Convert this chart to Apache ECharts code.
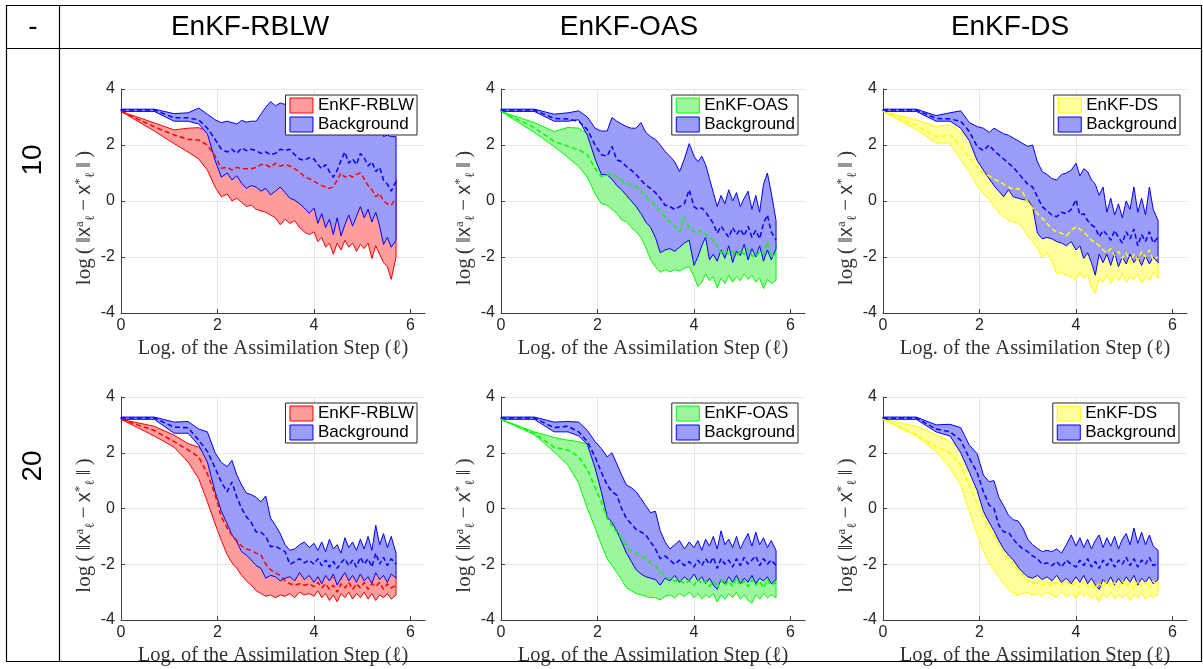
<!DOCTYPE html>
<html>
<head>
<meta charset="utf-8">
<script src="https://cdn.jsdelivr.net/npm/echarts@6/dist/echarts.min.js"></script>
<style>
  html, body { margin: 0; padding: 0; background: #fff; }
  #chart { width: 1203px; height: 669px; }
</style>
</head>
<body>
<div id="chart"></div>
<script>
// log of the assimilation step (shared x samples)
const X = [0, 0.69, 1.10, 1.39, 1.61, 1.79, 1.95, 2.08, 2.20, 2.30, 2.40, 2.5, 2.6, 2.7, 2.8, 2.9, 3.0, 3.1, 3.2, 3.3, 3.4, 3.5, 3.6, 3.7, 3.8, 3.9,
  4.0, 4.08, 4.16, 4.24, 4.32, 4.40, 4.48, 4.56, 4.64, 4.72, 4.80, 4.88, 4.96, 5.04, 5.12, 5.20, 5.28, 5.36, 5.44, 5.52, 5.60, 5.70];
const xTicks = [0, 2, 4, 6];
const rowLabels = ['10', '20'];
const methods = ['EnKF-RBLW', 'EnKF-OAS', 'EnKF-DS'];

// ensemble 10, EnKF-RBLW
const rblw10Lo = [3.2, 2.5, 2.05, 1.75, 1.5, 1.1, 0.5, 0.15, 0.25, 0.0, 0.1, -0.05, -0.2, -0.15, -0.3, -0.35, -0.4, -0.5, -0.6, -0.85, -0.65, -0.8, -0.7, -0.95, -1.1, -1.2,
  -1.1, -1.45, -1.3, -1.65, -1.5, -1.9, -1.5, -1.75, -1.4, -1.65, -1.5, -1.8, -1.55, -1.7, -1.5, -2.05, -1.6, -1.9, -2.2, -2.35, -2.8, -2.0];
const rblw10Mean = [3.2, 2.65, 2.36, 2.2, 2.18, 2.0, 1.6, 1.17, 1.2, 1.1, 1.2, 1.15, 1.15, 1.15, 1.2, 1.3, 1.3, 1.2, 1.35, 1.25, 1.3, 1.25, 1.15, 1.05, 0.87, 0.8,
  0.7, 0.63, 0.55, 0.5, 0.45, 0.5, 0.75, 1.0, 0.85, 0.93, 0.85, 0.95, 1.0, 0.8, 0.55, 0.4, 0.15, 0.27, 0.0, -0.1, -0.15, 0.1];
const rblw10Hi = [3.2, 2.79, 2.54, 2.6, 2.62, 2.5, 2.3, 2.0, 2.0, 1.9, 1.95, 1.9, 1.9, 1.9, 1.95, 2.0, 2.0, 1.95, 2.05, 2.0, 2.0, 1.95, 1.9, 1.8, 1.7, 1.6,
  1.5, 1.4, 1.35, 1.3, 1.2, 1.25, 1.45, 1.7, 1.6, 1.65, 1.6, 1.7, 1.7, 1.55, 1.35, 1.2, 1.0, 1.1, 0.8, 0.7, 0.6, 0.8];
const rblw10BgLo = [3.2, 3.2, 2.85, 2.85, 2.75, 2.4, 1.45, 0.85, 1.0, 0.75, 0.9, 0.63, 0.45, 0.55, 0.5, 0.35, 0.45, 0.22, 0.35, 0.5, 0.3, 0.1, 0.03, -0.1, -0.25, -0.44,
  -0.25, -0.8, -0.45, -0.95, -0.65, -1.2, -0.6, -1.25, -0.85, -0.5, -0.9, -0.55, -0.2, -0.6, -0.3, -0.75, -0.4, -0.9, -1.55, -1.3, -1.65, -1.4];
const rblw10BgMean = [3.25, 3.25, 2.97, 2.97, 2.9, 2.6, 2.2, 1.85, 1.75, 1.85, 1.7, 1.9, 1.8, 1.85, 1.8, 1.7, 1.75, 1.65, 1.7, 1.85, 1.8, 1.85, 1.65, 1.5, 1.45, 1.55,
  1.5, 1.3, 1.15, 1.3, 1.05, 0.85, 1.1, 1.45, 1.75, 1.35, 1.5, 1.3, 1.7, 1.55, 1.25, 1.4, 1.05, 1.2, 0.75, 0.6, 0.35, 0.7];
const rblw10BgHi = [3.28, 3.28, 3.12, 3.15, 3.32, 3.1, 2.9, 2.8, 2.85, 2.8, 2.75, 2.88, 2.82, 2.85, 2.85, 3.1, 3.35, 3.55, 3.4, 3.5, 3.45, 3.6, 3.55, 3.6, 3.5, 3.6,
  3.55, 3.6, 3.5, 3.55, 3.6, 3.5, 3.55, 3.5, 3.6, 3.5, 3.55, 3.5, 3.45, 3.5, 3.4, 3.45, 3.4, 3.3, 2.3, 2.35, 2.3, 2.3];

// ensemble 10, EnKF-OAS
const oas10Lo = [3.2, 2.45, 1.95, 1.55, 1.23, 0.85, 0.25, -0.1, -0.15, -0.3, -0.44, -0.68, -0.74, -0.95, -1.1, -1.3, -1.65, -2.1, -2.35, -2.55, -2.45, -2.53, -2.45, -2.5, -2.4, -2.35,
  -2.7, -3.05, -2.9, -2.6, -2.85, -2.7, -3.1, -2.75, -2.95, -2.65, -2.9, -2.7, -2.85, -2.6, -2.8, -2.65, -2.9, -2.75, -3.13, -2.8, -2.95, -2.83];
const oas10Mean = [3.2, 2.62, 2.13, 1.95, 1.83, 1.65, 1.17, 0.87, 0.93, 0.98, 0.85, 0.75, 0.63, 0.55, 0.51, 0.4, 0.15, 0.05, -0.15, -0.35, -0.55, -0.75, -0.92, -1.1, -0.56, -0.95,
  -1.1, -1.15, -1.05, -1.2, -1.28, -1.4, -1.6, -1.85, -1.75, -1.9, -1.8, -1.95, -1.75, -1.9, -1.7, -1.95, -2.0, -1.8, -1.9, -1.45, -2.0, -1.87];
const oas10Hi = [3.2, 2.8, 2.48, 2.63, 2.6, 2.4, 2.1, 1.8, 1.6, 1.5, 1.4, 1.3, 1.15, 1.0, 0.85, 0.7, 0.55, 0.35, 0.15, -0.05, -0.25, -0.35, -0.45, -0.5, -0.3, -0.2,
  -0.7, -0.8, -0.75, -0.9, -1.1, -1.3, -1.4, -1.25, -1.45, -1.3, -1.5, -1.35, -1.2, -1.45, -1.3, -1.55, -1.4, -1.2, -1.5, -1.1, -1.4, -1.6];
const oas10BgLo = [3.2, 3.2, 2.85, 2.85, 2.9, 2.35, 1.5, 0.95, 0.93, 0.78, 0.55, 0.4, 0.2, 0.0, -0.2, -0.45, -0.75, -0.95, -1.3, -1.85, -1.75, -1.7, -1.8, -1.65, -1.5, -1.4,
  -2.3, -2.0, -1.6, -1.3, -2.1, -1.9, -2.15, -1.75, -2.05, -1.6, -2.2, -1.8, -1.95, -1.55, -2.1, -1.7, -2.0, -1.6, -2.15, -1.75, -2.1, -1.7];
const oas10BgMean = [3.25, 3.25, 2.95, 2.93, 2.85, 2.55, 2.0, 1.65, 1.6, 1.95, 1.47, 1.4, 1.23, 1.1, 0.95, 0.75, 0.57, 0.45, 0.3, 0.1, -0.15, -0.2, -0.3, -0.2, -0.1, 0.4,
  -0.2, -0.3, -0.25, -0.38, -0.6, -0.8, -1.15, -0.9, -1.1, -1.3, -0.95, -1.2, -1.0, -1.25, -0.9, -1.3, -1.05, -1.35, -0.8, -0.5, -1.1, -1.4];
const oas10BgHi = [3.28, 3.28, 3.1, 3.15, 3.22, 3.0, 2.6, 2.5, 2.5, 2.98, 2.85, 2.75, 2.66, 2.6, 2.6, 2.8, 2.45, 2.3, 2.2, 2.0, 1.77, 1.6, 1.4, 1.05, 1.5, 2.05,
  1.6, 1.4, 1.6, 1.3, 0.8, 0.3, -0.2, 0.2, -0.1, 0.4, 0.0, 0.3, -0.2, 0.1, 0.35, -0.3, 0.2, -0.4, 0.6, 1.0, 0.3, -0.7];

// ensemble 10, EnKF-DS
const ds10Lo = [3.2, 2.55, 2.07, 2.07, 1.47, 1.05, 0.55, 0.27, 0.05, -0.2, -0.4, -0.56, -0.68, -0.75, -0.8, -0.95, -1.25, -1.45, -1.7, -2.0, -1.87, -2.15, -2.6, -2.55, -2.65, -2.7,
  -2.83, -2.55, -2.75, -2.65, -3.07, -3.3, -2.75, -2.9, -2.65, -2.95, -2.7, -2.85, -2.6, -2.9, -2.7, -2.8, -2.6, -2.95, -2.7, -2.85, -2.55, -2.75];
const ds10Mean = [3.2, 2.7, 2.3, 2.36, 1.95, 1.55, 1.2, 1.0, 0.9, 0.78, 0.7, 0.6, 0.5, 0.42, 0.45, 0.3, -0.05, -0.25, -0.45, -0.62, -0.8, -1.0, -1.1, -1.15, -1.25, -1.05,
  -0.92, -1.0, -1.1, -1.25, -1.4, -1.5, -1.58, -1.75, -1.85, -1.7, -1.95, -1.8, -2.05, -1.85, -2.2, -1.9, -2.1, -1.8, -2.0, -1.75, -2.1, -2.0];
const ds10Hi = [3.2, 2.9, 2.66, 2.72, 2.5, 2.2, 1.8, 1.6, 1.5, 1.4, 1.3, 1.2, 1.1, 1.0, 1.0, 0.9, 0.6, 0.4, 0.2, 0.0, -0.2, -0.4, -0.5, -0.55, -0.6, -0.4,
  -0.3, -0.5, -0.6, -0.7, -0.9, -1.0, -1.1, -1.3, -1.4, -1.25, -1.5, -1.35, -1.6, -1.4, -1.7, -1.45, -1.6, -1.35, -1.55, -1.3, -1.6, -1.5];
const ds10BgLo = [3.2, 3.2, 2.85, 2.85, 2.6, 2.15, 1.45, 1.1, 0.8, 0.55, 0.35, 0.15, 0.4, 0.15, 0.1, 0.05, 0.03, -0.2, -1.15, -1.35, -1.3, -1.35, -1.45, -1.5, -1.6, -1.45,
  -1.75, -1.6, -2.05, -1.85, -2.2, -2.65, -1.9, -2.2, -1.9, -2.3, -1.85, -2.35, -2.0, -2.25, -1.9, -2.2, -2.0, -2.3, -1.95, -2.25, -2.0, -2.2];
const ds10BgMean = [3.25, 3.25, 2.95, 2.93, 2.85, 2.48, 1.95, 1.8, 2.0, 1.8, 1.65, 1.5, 1.35, 1.2, 1.0, 0.8, 0.6, 0.5, 0.15, -0.2, -0.35, -0.5, -0.56, -0.4, -0.45, -0.3,
  0.05, -0.5, -0.45, -0.7, -0.85, -0.95, -1.28, -1.05, -1.2, -1.4, -1.05, -1.3, -1.5, -1.1, -1.35, -1.0, -1.6, -1.2, -1.45, -1.1, -1.5, -1.3];
const ds10BgHi = [3.28, 3.28, 3.05, 3.15, 3.22, 2.8, 2.66, 2.6, 2.45, 2.6, 2.5, 2.4, 2.35, 2.25, 2.15, 2.05, 1.95, 2.0, 1.4, 1.05, 0.95, 0.8, 0.75, 0.95, 1.0, 1.1,
  1.35, 0.9, 1.15, 1.05, 0.75, 0.6, 0.2, 0.5, -0.4, 0.1, -0.5, -0.1, -0.6, 0.0, -0.3, 0.5, -0.4, 0.1, -0.5, 0.5, -0.3, -0.7];

// ensemble 20, EnKF-RBLW
const rblw20Lo = [3.2, 2.6, 2.2, 1.67, 1.07, 0.24, -0.55, -1.15, -1.65, -1.95, -2.15, -2.4, -2.6, -2.75, -2.95, -3.05, -3.15, -3.1, -3.2, -3.1, -3.15, -3.05, -3.2, -3.0, -3.1, -3.05,
  -3.15, -2.95, -3.2, -3.05, -3.3, -3.1, -3.35, -3.05, -3.2, -3.0, -3.25, -3.05, -3.2, -3.0, -3.25, -3.05, -3.3, -3.1, -3.2, -3.05, -3.25, -3.1];
const rblw20Mean = [3.2, 2.8, 2.4, 2.1, 1.85, 1.25, 0.5, -0.3, -0.7, -0.95, -1.15, -1.35, -1.45, -1.5, -1.6, -1.67, -2.0, -2.2, -2.3, -2.4, -2.6, -2.7, -2.75, -2.7, -2.75, -2.7,
  -2.8, -2.65, -2.85, -2.7, -2.9, -2.75, -3.0, -2.7, -2.85, -2.65, -2.9, -2.7, -2.85, -2.65, -2.9, -2.7, -2.8, -2.65, -2.9, -2.7, -2.85, -2.75];
const rblw20Hi = [3.2, 2.95, 2.63, 2.33, 2.2, 1.9, 1.4, 0.9, 0.5, 0.2, -0.1, -0.4, -0.6, -0.8, -1.0, -1.2, -1.5, -1.7, -1.9, -2.0, -2.1, -2.2, -2.25, -2.3, -2.3, -2.35,
  -2.3, -2.5, -2.3, -2.45, -2.25, -2.5, -2.3, -2.55, -2.2, -2.45, -2.25, -2.5, -2.2, -2.4, -2.3, -2.55, -2.2, -2.45, -2.3, -2.5, -2.2, -2.45];
const rblw20BgLo = [3.2, 3.2, 2.7, 2.7, 2.27, 1.67, 0.6, -0.1, -0.55, -0.95, -1.2, -1.55, -1.67, -1.85, -2.05, -2.15, -2.5, -2.4, -2.45, -2.6, -2.5, -2.45, -2.6, -2.3, -2.55, -2.4,
  -2.65, -2.45, -2.7, -2.4, -2.6, -2.35, -2.75, -2.5, -2.3, -2.6, -2.4, -2.65, -2.35, -2.6, -2.45, -2.7, -2.3, -2.55, -2.4, -2.65, -2.35, -2.5];
const rblw20BgMean = [3.25, 3.25, 2.92, 2.9, 2.45, 2.05, 1.45, 0.95, 0.6, 0.95, 0.4, 0.0, -0.3, -0.5, -0.84, -0.85, -1.0, -1.37, -1.35, -1.45, -1.55, -2.0, -1.9, -1.8, -1.95, -1.85,
  -2.0, -1.8, -2.05, -1.85, -2.1, -1.9, -2.15, -1.95, -1.8, -2.05, -1.85, -2.1, -1.75, -2.0, -1.8, -2.1, -1.6, -2.0, -1.75, -2.05, -1.8, -2.0];
const rblw20BgHi = [3.28, 3.28, 3.1, 3.12, 2.85, 2.75, 2.0, 1.65, 1.5, 1.73, 1.2, 0.84, 0.55, 0.5, 0.4, 0.24, 0.45, -0.35, -0.6, -0.9, -1.3, -1.5, -1.45, -1.3, -1.2, -1.4,
  -1.25, -1.5, -1.2, -1.55, -1.1, -1.45, -1.3, -1.6, -1.05, -1.4, -1.2, -1.5, -1.1, -1.45, -1.0, -1.5, -0.6, -1.3, -0.9, -1.4, -1.0, -1.6];

// ensemble 20, EnKF-OAS
const oas20Lo = [3.2, 2.65, 2.03, 1.55, 0.9, 0.0, -0.7, -1.3, -1.8, -2.05, -2.3, -2.55, -2.85, -2.95, -3.05, -3.1, -3.15, -3.2, -3.2, -3.28, -3.15, -3.1, -3.2, -3.05, -3.15, -3.0,
  -3.2, -3.05, -3.25, -3.1, -3.2, -3.05, -3.35, -3.1, -3.25, -3.05, -3.2, -3.0, -3.25, -3.1, -3.3, -3.4, -3.1, -3.25, -3.05, -3.2, -3.1, -3.2];
const oas20Mean = [3.2, 2.7, 2.2, 2.1, 1.85, 1.4, 0.75, 0.24, -0.36, -0.6, -0.85, -1.07, -1.4, -1.5, -1.6, -1.67, -1.8, -1.95, -2.05, -2.27, -2.45, -2.55, -2.6, -2.55, -2.7, -2.6,
  -2.75, -2.55, -2.7, -2.6, -2.8, -2.6, -2.85, -2.55, -2.75, -2.6, -2.8, -2.5, -2.75, -2.6, -2.8, -2.55, -2.75, -2.6, -2.85, -2.55, -2.75, -2.65];
const oas20Hi = [3.2, 2.75, 2.55, 2.45, 2.4, 2.3, 1.6, 0.7, 0.2, -0.1, -0.4, -0.8, -1.2, -1.5, -1.9, -2.05, -2.15, -2.25, -2.3, -2.35, -2.3, -2.4, -2.3, -2.45, -2.25, -2.4,
  -2.3, -2.5, -2.25, -2.45, -2.3, -2.5, -2.35, -2.55, -2.2, -2.45, -2.3, -2.5, -2.15, -2.45, -2.3, -2.5, -2.25, -2.45, -2.3, -2.5, -2.25, -2.45];
const oas20BgLo = [3.2, 3.2, 2.75, 2.75, 2.6, 2.3, 1.45, 0.6, -0.3, -0.5, -0.8, -1.2, -1.6, -1.9, -2.2, -2.35, -2.45, -2.5, -2.55, -2.75, -2.5, -2.6, -2.4, -2.65, -2.45, -2.6,
  -2.35, -2.6, -2.45, -2.7, -2.5, -2.75, -2.9, -2.55, -2.7, -2.45, -2.65, -2.4, -2.7, -2.5, -2.65, -2.4, -2.7, -2.5, -2.6, -2.45, -2.7, -2.55];
const oas20BgMean = [3.25, 3.25, 2.9, 2.95, 2.75, 2.4, 1.85, 1.3, 0.84, 0.6, 0.48, 0.0, -0.36, -0.55, -0.75, -0.84, -0.95, -1.2, -1.45, -1.8, -1.7, -1.85, -2.0, -1.85, -2.05, -1.9,
  -2.1, -1.85, -2.05, -1.8, -2.0, -1.75, -2.15, -1.8, -2.0, -1.85, -2.1, -1.8, -2.05, -1.75, -2.0, -1.85, -1.7, -2.05, -1.8, -2.0, -1.85, -2.05];
const oas20BgHi = [3.28, 3.28, 3.1, 3.12, 3.1, 2.8, 2.4, 2.15, 1.85, 2.0, 1.6, 1.2, 0.84, 0.75, 0.6, 0.36, 0.1, -0.15, -0.1, -0.8, -1.2, -1.45, -1.3, -1.15, -1.45, -1.2,
  -1.4, -1.15, -1.5, -1.1, -1.35, -1.0, -1.45, -0.8, -1.3, -1.1, -1.4, -1.0, -1.45, -1.15, -0.9, -1.35, -0.85, -1.3, -1.05, -1.4, -1.15, -1.5];

// ensemble 20, EnKF-DS
const ds20Lo = [3.2, 2.6, 2.05, 1.45, 0.84, -0.1, -0.9, -1.5, -1.95, -2.2, -2.45, -2.7, -2.9, -3.05, -3.1, -3.05, -3.0, -3.1, -3.05, -3.15, -3.0, -3.1, -3.2, -3.0, -3.15, -3.05,
  -3.2, -3.0, -3.15, -3.05, -3.25, -3.1, -3.35, -3.05, -3.2, -3.0, -3.25, -3.1, -3.2, -3.05, -3.3, -3.1, -3.2, -3.0, -3.25, -3.1, -3.2, -3.05];
const ds20Mean = [3.2, 2.65, 2.22, 2.0, 1.55, 0.8, 0.2, -0.3, -0.72, -1.0, -1.3, -1.55, -1.8, -2.0, -2.2, -2.4, -2.6, -2.65, -2.7, -2.75, -2.65, -2.8, -2.65, -2.75, -2.6, -2.8,
  -2.65, -2.85, -2.6, -2.8, -2.7, -2.9, -2.65, -2.85, -2.6, -2.8, -2.65, -2.85, -2.6, -2.8, -2.65, -2.9, -2.6, -2.8, -2.65, -2.85, -2.6, -2.8];
const ds20Hi = [3.2, 2.95, 2.65, 2.4, 2.15, 1.6, 1.0, 0.4, -0.1, -0.4, -0.8, -1.1, -1.4, -1.65, -1.9, -2.05, -2.2, -2.3, -2.3, -2.4, -2.3, -2.45, -2.3, -2.5, -2.35, -2.5,
  -2.3, -2.45, -2.25, -2.5, -2.35, -2.55, -2.3, -2.5, -2.3, -2.45, -2.25, -2.5, -2.3, -2.45, -2.25, -2.5, -2.3, -2.45, -2.3, -2.5, -2.3, -2.45];
const ds20BgLo = [3.2, 3.2, 2.75, 2.6, 2.0, 1.3, 0.65, -0.1, -0.5, -0.8, -1.15, -1.45, -1.67, -1.85, -2.1, -2.3, -2.45, -2.5, -2.4, -2.55, -2.45, -2.6, -2.4, -2.65, -2.5, -2.7,
  -2.45, -2.65, -2.4, -2.7, -2.5, -2.75, -2.9, -2.55, -2.7, -2.45, -2.75, -2.5, -2.7, -2.45, -2.65, -2.4, -2.75, -2.5, -2.65, -2.45, -2.7, -2.55];
const ds20BgMean = [3.25, 3.25, 2.85, 2.75, 2.45, 1.8, 1.3, 0.6, 0.12, 0.0, -0.6, -0.84, -0.85, -1.1, -1.3, -1.45, -1.55, -1.7, -1.8, -2.0, -1.95, -2.05, -1.9, -2.1, -1.85, -2.0,
  -2.1, -1.85, -2.05, -1.8, -2.1, -1.9, -2.15, -1.85, -2.05, -1.8, -2.1, -1.85, -2.0, -1.75, -2.05, -1.8, -2.1, -1.85, -2.0, -1.75, -2.05, -1.95];
const ds20BgHi = [3.28, 3.28, 3.0, 3.02, 2.9, 2.27, 1.97, 1.2, 0.96, 1.0, 0.4, 0.1, -0.24, -0.4, -0.45, -0.7, -1.1, -1.3, -1.43, -1.55, -1.5, -1.55, -1.45, -1.6, -1.3, -0.95,
  -1.35, -1.05, -1.4, -1.1, -1.45, -1.15, -0.95, -1.4, -1.05, -1.35, -1.0, -1.45, -1.1, -0.9, -1.3, -0.7, -1.25, -0.85, -1.3, -0.95, -1.35, -1.5];

const SANS = '"Liberation Sans", Arial, Helvetica, sans-serif';
const SERIF = '"Liberation Serif", "DejaVu Serif", serif';
const INK = '#262626';

const BG = { color: '#0000ff', fill: '#9c9cfb' };
const METHOD_STYLE = {
  'EnKF-RBLW': { color: '#ff0000', fill: '#ff9c9c' },
  'EnKF-OAS': { color: '#00ff00', fill: '#9cf79c' },
  'EnKF-DS': { color: '#ffff00', fill: '#ffff9c' }
};

const panels = [
  { left: 121, top: 89, h: 224, legendRight: 786, legendTop: 95, method: methods[0], d: [rblw10Lo, rblw10Mean, rblw10Hi, rblw10BgLo, rblw10BgMean, rblw10BgHi] },
  { left: 501, top: 89, h: 224, legendRight: 405, legendTop: 95, method: methods[1], d: [oas10Lo, oas10Mean, oas10Hi, oas10BgLo, oas10BgMean, oas10BgHi] },
  { left: 883, top: 89, h: 224, legendRight: 23, legendTop: 95, method: methods[2], d: [ds10Lo, ds10Mean, ds10Hi, ds10BgLo, ds10BgMean, ds10BgHi] },
  { left: 121, top: 397, h: 223, legendRight: 786, legendTop: 403, method: methods[0], d: [rblw20Lo, rblw20Mean, rblw20Hi, rblw20BgLo, rblw20BgMean, rblw20BgHi] },
  { left: 501, top: 397, h: 223, legendRight: 405, legendTop: 403, method: methods[1], d: [oas20Lo, oas20Mean, oas20Hi, oas20BgLo, oas20BgMean, oas20BgHi] },
  { left: 883, top: 397, h: 223, legendRight: 24, legendTop: 403, method: methods[2], d: [ds20Lo, ds20Mean, ds20Hi, ds20BgLo, ds20BgMean, ds20BgHi] }
];

// min/max band as one polygon, mapped through the axis scales
function bandSeries(idx, name, lo, hi, stroke, fill) {
  return {
    type: 'custom', name, xAxisIndex: idx, yAxisIndex: idx,
    data: [[X[0], lo[0]]],
    itemStyle: { color: fill, borderColor: stroke },
    silent: true, z: 2,
    renderItem: (params, api) => {
      const top = hi.map((v, i) => api.coord([X[i], v]));
      const bottom = lo.map((v, i) => api.coord([X[i], v])).reverse();
      return {
        type: 'polygon',
        shape: { points: top.concat(bottom) },
        style: { fill, stroke, lineWidth: 1 }
      };
    }
  };
}

function meanSeries(idx, name, ys, color) {
  return {
    type: 'line', name, xAxisIndex: idx, yAxisIndex: idx,
    data: X.map((x, i) => [x, ys[i]]),
    symbol: 'none', silent: true, z: 3,
    lineStyle: { color, width: 1.5, type: [5, 3] },
    itemStyle: { color }
  };
}

const series = [];
panels.forEach((p, i) => {
  const m = METHOD_STYLE[p.method];
  const [lo, mean, hi, bgLo, bgMean, bgHi] = p.d;
  series.push(bandSeries(i, p.method, lo, hi, m.color, m.fill));
  series.push(bandSeries(i, 'Background', bgLo, bgHi, BG.color, BG.fill));
  series.push(meanSeries(i, p.method + ' mean', mean, m.color));
  series.push(meanSeries(i, 'Background mean', bgMean, BG.color));
});

const yName = '{t|log\u2009(\u2009‖}{x|x}{s|a}{b|ℓ}{t|\u2009−\u2009}{x|x}{s|*}{b|ℓ}{t|\u2009‖\u2009)}';
const yRich = {
  t: { fontFamily: SERIF, fontSize: 21, color: '#333', lineHeight: 24 },
  x: { fontFamily: SANS, fontSize: 20, color: '#333', lineHeight: 24 },
  s: { fontFamily: SERIF, fontSize: 13, color: '#333', lineHeight: 12, verticalAlign: 'top' },
  b: { fontFamily: SERIF, fontSize: 13, color: '#333', lineHeight: 12, verticalAlign: 'bottom' }
};

const chart = echarts.init(document.getElementById('chart'), null, { renderer: 'canvas' });
chart.setOption({
  animation: false,
  backgroundColor: '#fff',
  grid: panels.map(p => ({ left: p.left, top: p.top, width: 304, height: p.h })),
  xAxis: panels.map((p, i) => ({
    type: 'value', gridIndex: i, min: 0, max: 6.3, interval: 2,
    name: 'Log. of the Assimilation Step (ℓ)', nameLocation: 'middle', nameGap: 25,
    nameTextStyle: { fontFamily: SERIF, fontSize: 20.5, color: '#333' },
    axisLine: { onZero: false, lineStyle: { color: '#404040', width: 1 } },
    axisTick: { inside: true, length: 4, customValues: xTicks, lineStyle: { color: '#404040' } },
    axisLabel: { customValues: xTicks, margin: 5, fontFamily: SANS, fontSize: 16, color: INK,
      formatter: v => (v % 2 === 0 ? String(v) : '') },
    splitLine: { show: true, showMaxLine: false, lineStyle: { color: '#e6e6e6', width: 1 } }
  })),
  yAxis: panels.map((p, i) => ({
    type: 'value', gridIndex: i, min: -4, max: 4, interval: 2,
    name: yName, nameLocation: 'middle', nameGap: 20, nameRotate: 90,
    nameTextStyle: { fontFamily: SERIF, fontSize: 21, color: '#333', padding: [0, 34, 0, 0], rich: yRich },
    axisLine: { show: true, onZero: false, lineStyle: { color: '#404040', width: 1 } },
    axisTick: { show: true, inside: true, length: 4, lineStyle: { color: '#404040' } },
    axisLabel: { margin: 6, fontFamily: SANS, fontSize: 16, color: INK },
    splitLine: { show: true, lineStyle: { color: '#e6e6e6', width: 1 } }
  })),
  legend: panels.map(p => {
    const m = METHOD_STYLE[p.method];
    return {
      right: p.legendRight, top: p.legendTop, orient: 'vertical',
      itemGap: 2, itemWidth: 23, itemHeight: 15, icon: 'rect',
      backgroundColor: '#fff', borderColor: INK, borderWidth: 1, borderRadius: 0,
      padding: [2, 3, 2, 4], selectedMode: false, z: 10,
      textStyle: { fontFamily: SANS, fontSize: 17, color: '#000' },
      data: [
        { name: p.method, itemStyle: { color: m.fill, borderColor: m.color, borderWidth: 1 } },
        { name: 'Background', itemStyle: { color: BG.fill, borderColor: BG.color, borderWidth: 1 } }
      ]
    };
  }),
  graphic: [
    { type: 'rect', silent: true, z: 20, shape: { x: 6.5, y: 5.5, width: 1195, height: 656 },
      style: { fill: null, stroke: '#000', lineWidth: 1.2 } },
    { type: 'line', silent: true, z: 20, shape: { x1: 6, y1: 48.5, x2: 1201, y2: 48.5 }, style: { stroke: '#000', lineWidth: 1.2 } },
    { type: 'line', silent: true, z: 20, shape: { x1: 59.5, y1: 5, x2: 59.5, y2: 661 }, style: { stroke: '#000', lineWidth: 1.2 } },
    { type: 'text', silent: true, x: 33, y: 27, style: { text: '-', fontFamily: SANS, fontSize: 28, fill: '#000', align: 'center', verticalAlign: 'middle' } },
    { type: 'text', silent: true, x: 250, y: 27, style: { text: methods[0], fontFamily: SANS, fontSize: 28, fill: '#000', align: 'center', verticalAlign: 'middle' } },
    { type: 'text', silent: true, x: 629, y: 27, style: { text: methods[1], fontFamily: SANS, fontSize: 28, fill: '#000', align: 'center', verticalAlign: 'middle' } },
    { type: 'text', silent: true, x: 1010, y: 27, style: { text: methods[2], fontFamily: SANS, fontSize: 28, fill: '#000', align: 'center', verticalAlign: 'middle' } },
    { type: 'text', silent: true, x: 33, y: 160, rotation: Math.PI / 2, style: { text: rowLabels[0], fontFamily: SANS, fontSize: 28, fill: '#000', align: 'center', verticalAlign: 'middle' } },
    { type: 'text', silent: true, x: 33, y: 466, rotation: Math.PI / 2, style: { text: rowLabels[1], fontFamily: SANS, fontSize: 28, fill: '#000', align: 'center', verticalAlign: 'middle' } }
  ],
  series
});
window.addEventListener('resize', () => chart.resize());
</script>
</body>
</html>
